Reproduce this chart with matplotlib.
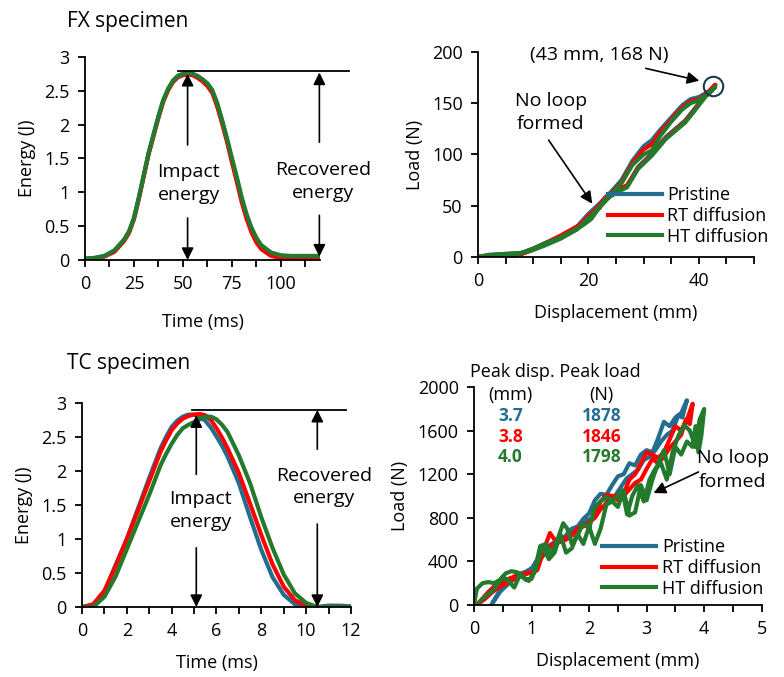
import matplotlib
matplotlib.use("Agg")
import matplotlib.pyplot as plt

plt.rcParams['font.family'] = ['Open Sans', 'DejaVu Sans']
plt.rcParams['font.size'] = 13

BLUE = '#236e8f'
RED = '#ff0000'
GREEN = '#237a2d'

# ---- FX specimen: energy vs time ----
fx_time = [0, 5, 10, 15, 20, 22.5, 25, 27.5, 30, 32.5, 35, 37.5, 40, 42.5, 45, 47.5, 50, 52.5, 55, 57.5,
           60, 62.5, 65, 67.5, 70, 72.5, 75, 77.5, 80, 82.5, 85, 87.5, 90, 95, 100, 105, 110, 115, 120]
fx_e_pristine = [0.02, 0.03, 0.06, 0.14, 0.30, 0.42, 0.62, 0.92, 1.25, 1.58, 1.85, 2.12, 2.36, 2.53, 2.65, 2.72, 2.75, 2.76, 2.75, 2.71,
                 2.66, 2.60, 2.50, 2.30, 2.05, 1.78, 1.48, 1.20, 0.90, 0.65, 0.45, 0.30, 0.20, 0.10, 0.06, 0.05, 0.05, 0.05, 0.05]
fx_e_rt = [0.01, 0.02, 0.05, 0.12, 0.28, 0.40, 0.60, 0.90, 1.23, 1.56, 1.83, 2.10, 2.34, 2.51, 2.63, 2.70, 2.73, 2.74, 2.73, 2.69,
           2.64, 2.57, 2.47, 2.27, 2.02, 1.75, 1.45, 1.16, 0.86, 0.61, 0.41, 0.26, 0.16, 0.06, 0.03, 0.02, 0.02, 0.02, 0.03]
fx_e_ht = [0.02, 0.03, 0.06, 0.14, 0.30, 0.42, 0.62, 0.92, 1.25, 1.58, 1.85, 2.12, 2.36, 2.53, 2.65, 2.72, 2.75, 2.76, 2.75, 2.72,
           2.67, 2.61, 2.51, 2.32, 2.07, 1.80, 1.51, 1.23, 0.93, 0.68, 0.48, 0.33, 0.22, 0.11, 0.07, 0.06, 0.06, 0.06, 0.06]

# ---- FX specimen: load vs displacement (upper and lower branch) ----
fx_d_up = [0, 2, 5, 8, 10, 12, 15, 18, 20, 22, 24, 26, 28, 30, 31.5, 33, 35, 37, 38.5, 40, 42, 43]
fx_l_up_pristine = [0, 2, 3, 4, 8, 12, 20, 30, 42, 52, 63, 75, 94, 108, 114, 124, 136, 148, 154, 156, 162, 168]
fx_l_up_rt = [0, 1, 2, 3, 7, 12, 19, 29, 40, 50, 61, 73, 92, 105, 110, 122, 134, 146, 152, 154, 161, 168]
fx_l_up_ht = [0, 2, 3, 4, 7, 11, 18, 27, 38, 48, 60, 72, 90, 100, 104, 118, 132, 144, 150, 153, 160, 166]
fx_d_dn = [43, 41.3, 39, 37.5, 34, 31.5, 29, 27, 25.5, 23, 20.5, 19, 17, 15, 12, 10, 8, 6, 4, 2, 0]
fx_l_dn_pristine = [168, 159, 143, 133, 117, 101, 88, 69, 65, 57, 38, 32, 26, 20, 13, 8, 4, 2, 1, 1, 0]
fx_l_dn_rt = [168, 158, 142, 132, 116, 100, 87, 70, 66, 58, 39, 33, 27, 21, 13, 8, 4, 1, 0, 0, 0]
fx_l_dn_ht = [166, 157, 141, 131, 115, 99, 86, 68, 64, 56, 37, 31, 25, 19, 13, 8, 4, 2, 1, 1, 0]

# ---- TC specimen: energy vs time ----
tc_time = [0, 0.5, 1, 1.5, 2, 2.5, 3, 3.5, 3.75, 4, 4.25, 4.5, 4.75, 5, 5.25, 5.5, 5.75, 6, 6.25, 6.5,
           7, 7.5, 8, 8.5, 9, 9.5, 10, 10.5, 11, 11.5, 12]
tc_e_pristine = [0, 0.02, 0.22, 0.62, 1.00, 1.45, 1.90, 2.33, 2.50, 2.65, 2.74, 2.80, 2.83, 2.83, 2.80, 2.74, 2.64, 2.51, 2.37, 2.21,
                 1.82, 1.32, 0.84, 0.44, 0.18, 0.04, 0.0, 0.0, 0.02, 0.02, 0.01]
tc_e_rt = [0, 0.04, 0.24, 0.60, 1.00, 1.42, 1.85, 2.28, 2.45, 2.60, 2.70, 2.77, 2.81, 2.83, 2.84, 2.82, 2.75, 2.63, 2.49, 2.33,
           1.97, 1.52, 1.06, 0.63, 0.30, 0.10, 0.02, 0.0, 0.0, 0.0, 0.0]
tc_e_ht = [0, 0.0, 0.15, 0.45, 0.85, 1.25, 1.65, 2.08, 2.25, 2.40, 2.53, 2.63, 2.68, 2.72, 2.76, 2.80, 2.80, 2.76, 2.68, 2.57,
           2.23, 1.82, 1.32, 0.87, 0.48, 0.20, 0.06, 0.0, 0.0, 0.0, 0.0]

# ---- TC specimen: load vs displacement ----
tc_d_up_pristine = [0.30, 0.40, 0.50, 0.60, 0.70, 0.80, 0.90, 1.00, 1.10, 1.20, 1.30, 1.40, 1.50, 1.60, 1.70, 1.80, 1.90, 2.00, 2.10, 2.20, 2.30, 2.40, 2.50, 2.60, 2.70, 2.80, 2.90, 3.00, 3.10, 3.20, 3.30, 3.40, 3.50, 3.60, 3.70]
tc_l_up_pristine = [0, 90, 170, 210, 260, 290, 300, 330, 420, 480, 540, 580, 600, 640, 700, 720, 790, 840, 960, 1020, 1010, 1100, 1180, 1200, 1300, 1280, 1380, 1420, 1400, 1530, 1680, 1640, 1720, 1760, 1878]
tc_d_dn_pristine = [3.70, 3.62, 3.55, 3.45, 3.35, 3.25, 3.15, 3.05, 2.95, 2.85, 2.75, 2.65, 2.55, 2.45, 2.35, 2.25, 2.15, 2.05, 1.95, 1.85, 1.75, 1.65, 1.55, 1.45, 1.35, 1.25, 1.15, 1.05, 0.95, 0.85, 0.75, 0.65, 0.55, 0.45, 0.35]
tc_l_dn_pristine = [1878, 1720, 1740, 1600, 1560, 1500, 1420, 1360, 1330, 1240, 1200, 1160, 1080, 1000, 980, 900, 880, 800, 770, 720, 690, 650, 600, 580, 540, 480, 420, 350, 320, 290, 250, 220, 170, 120, 40]

tc_d_up_rt = [0.05, 0.15, 0.25, 0.35, 0.45, 0.55, 0.65, 0.75, 0.85, 0.95, 1.05, 1.15, 1.25, 1.32, 1.40, 1.50, 1.60, 1.70, 1.80, 1.90, 2.00, 2.10, 2.20, 2.30, 2.40, 2.50, 2.60, 2.70, 2.80, 2.90, 3.00, 3.10, 3.20, 3.30, 3.40, 3.50, 3.60, 3.70, 3.80]
tc_l_up_rt = [0, 60, 120, 170, 200, 230, 250, 270, 280, 290, 300, 420, 560, 660, 600, 600, 620, 640, 700, 720, 750, 820, 950, 1010, 1000, 1000, 1020, 1150, 1200, 1300, 1400, 1380, 1350, 1400, 1520, 1640, 1600, 1700, 1846]
tc_d_dn_rt = [3.80, 3.75, 3.68, 3.60, 3.50, 3.40, 3.30, 3.20, 3.10, 3.00, 2.90, 2.80, 2.70, 2.60, 2.50, 2.40, 2.30, 2.20, 2.10, 2.00, 1.90, 1.80, 1.70, 1.60, 1.50, 1.40, 1.30, 1.20, 1.10, 1.00, 0.90, 0.80, 0.70, 0.60, 0.50, 0.40, 0.30, 0.20, 0.10]
tc_l_dn_rt = [1846, 1660, 1700, 1560, 1500, 1440, 1360, 1300, 1340, 1250, 1150, 1120, 1060, 1000, 960, 990, 930, 880, 800, 760, 730, 700, 640, 600, 580, 560, 540, 480, 320, 300, 290, 260, 240, 210, 180, 150, 110, 60, 20]

tc_d_up_ht = [0.00, 0.05, 0.15, 0.25, 0.35, 0.45, 0.55, 0.65, 0.75, 0.85, 0.95, 1.05, 1.15, 1.25, 1.35, 1.45, 1.55, 1.62, 1.70, 1.80, 1.90, 2.00, 2.10, 2.20, 2.30, 2.40, 2.50, 2.58, 2.66, 2.75, 2.85, 2.95, 3.05, 3.15, 3.25, 3.35, 3.45, 3.55, 3.65, 3.75, 3.85, 3.92, 4.00]
tc_l_up_ht = [0, 150, 200, 210, 200, 230, 290, 310, 300, 260, 220, 300, 540, 560, 460, 600, 750, 700, 560, 640, 750, 700, 900, 950, 990, 960, 1000, 1050, 830, 1000, 1100, 950, 1150, 1250, 1300, 1150, 1400, 1550, 1650, 1600, 1450, 1700, 1798]
tc_d_dn_ht = [4.00, 3.95, 3.90, 3.85, 3.80, 3.70, 3.60, 3.50, 3.40, 3.30, 3.20, 3.10, 3.00, 2.90, 2.80, 2.70, 2.60, 2.50, 2.40, 2.30, 2.20, 2.10, 2.00, 1.90, 1.80, 1.70, 1.60, 1.50, 1.40, 1.30, 1.20, 1.10, 1.00, 0.90, 0.80, 0.70, 0.60, 0.50, 0.40, 0.30, 0.20, 0.10]
tc_l_dn_ht = [1798, 1550, 1400, 1640, 1450, 1500, 1380, 1450, 1200, 1420, 1300, 1150, 960, 1100, 850, 820, 1050, 900, 950, 920, 700, 560, 720, 560, 650, 520, 480, 650, 480, 420, 540, 380, 240, 230, 280, 160, 220, 260, 180, 120, 80, 30]

peak_disp = ['3.7', '3.8', '4.0']
peak_load = ['1878', '1846', '1798']
labels = ['Pristine', 'RT diffusion', 'HT diffusion']
colors = [BLUE, RED, GREEN]

fig = plt.figure(figsize=(7.84, 6.77), dpi=100)
ax1 = fig.add_axes([0.1084, 0.616, 0.2997, 0.2999])
ax2 = fig.add_axes([0.6097, 0.6204, 0.352, 0.3028])
ax3 = fig.add_axes([0.1046, 0.1034, 0.343, 0.3013])
ax4 = fig.add_axes([0.6046, 0.1064, 0.367, 0.322])


def style(ax):
    for s in ['top', 'right']:
        ax.spines[s].set_visible(False)
    for s in ['left', 'bottom']:
        ax.spines[s].set_linewidth(1.3)
    ax.tick_params(direction='out', length=5, width=1.3, labelsize=13, pad=6)


def ticks(ax, vals, labeled):
    ax.set_xticks(vals)
    ax.set_xticklabels([str(v) if v in labeled else '' for v in vals])


arr = dict(arrowstyle='-|>', color='black', lw=1.2, mutation_scale=18, shrinkA=0, shrinkB=0)
lw = 3
fs_note = 14

# FX energy
ax1.plot(fx_time, fx_e_pristine, color=BLUE, lw=lw)
ax1.plot(fx_time, fx_e_rt, color=RED, lw=lw)
ax1.plot(fx_time, fx_e_ht, color=GREEN, lw=lw)
ax1.set_xlim(0, 120)
ax1.set_ylim(0, 3)
ax1.set_yticks([0, 0.5, 1, 1.5, 2, 2.5, 3])
ax1.set_yticklabels(['0', '0.5', '1', '1.5', '2', '2.5', '3'])
ticks(ax1, [0, 12.5, 25, 37.5, 50, 62.5, 75, 87.5, 100, 112.5], [0, 25, 50, 75, 100])
ax1.set_xlabel('Time (ms)', labelpad=14)
ax1.set_ylabel('Energy (J)', labelpad=6)
style(ax1)
ax1.plot([47.5, 135], [2.79, 2.79], color='black', lw=1.3, clip_on=False)
ax1.annotate('', xy=(52.4, 2.75), xytext=(52.4, 1.7), arrowprops=arr)
ax1.annotate('', xy=(52.4, 0.0), xytext=(52.4, 0.62), arrowprops=arr)
ax1.annotate('', xy=(119.7, 2.77), xytext=(119.7, 1.74), arrowprops=arr, annotation_clip=False)
ax1.annotate('', xy=(119.7, 0.05), xytext=(119.7, 0.66), arrowprops=arr, annotation_clip=False)
ax1.text(53, 1.13, 'Impact\nenergy', ha='center', va='center', fontsize=fs_note, linespacing=1.3)
ax1.text(121.6, 1.16, 'Recovered\nenergy', ha='center', va='center', fontsize=fs_note, linespacing=1.3)

# FX load-displacement
for c, up, dn, lab in zip(colors, [fx_l_up_pristine, fx_l_up_rt, fx_l_up_ht],
                          [fx_l_dn_pristine, fx_l_dn_rt, fx_l_dn_ht], labels):
    ax2.plot(fx_d_up + fx_d_dn, up + dn, color=c, lw=lw, label=lab)
ax2.set_xlim(0, 50)
ax2.set_ylim(0, 200)
ax2.set_yticks([0, 50, 100, 150, 200])
ticks(ax2, [0, 5, 10, 15, 20, 25, 30, 35, 40, 45, 50], [0, 20, 40])
ax2.set_xlabel('Displacement (mm)', labelpad=10)
ax2.set_ylabel('Load (N)', labelpad=6)
style(ax2)
ax2.plot([42.5], [167], marker='o', ms=14, mfc='none', mec='#1a3a4a', mew=1.5, clip_on=False)
ax2.text(22, 197, '(43 mm, 168 N)', ha='center', va='center', fontsize=fs_note, clip_on=False)
ax2.annotate('', xy=(40.1, 172), xytext=(30.4, 184), arrowprops=arr)
ax2.text(13.2, 141, 'No loop\nformed', ha='center', va='center', fontsize=fs_note, linespacing=1.4)
ax2.annotate('', xy=(20.7, 52), xytext=(12.8, 114), arrowprops=arr)
ax2.legend(loc='lower right', bbox_to_anchor=(1.08, 0.02), frameon=False, fontsize=13,
           handlelength=3.0, handletextpad=0.3, labelspacing=0.15, borderaxespad=0)

# TC energy
ax3.plot(tc_time, tc_e_pristine, color=BLUE, lw=lw)
ax3.plot(tc_time, tc_e_rt, color=RED, lw=lw)
ax3.plot(tc_time, tc_e_ht, color=GREEN, lw=lw)
ax3.set_xlim(0, 12)
ax3.set_ylim(0, 3)
ax3.set_yticks([0, 0.5, 1, 1.5, 2, 2.5, 3])
ax3.set_yticklabels(['0', '0.5', '1', '1.5', '2', '2.5', '3'])
ticks(ax3, list(range(13)), [0, 2, 4, 6, 8, 10, 12])
ax3.set_xlabel('Time (ms)', labelpad=10)
ax3.set_ylabel('Energy (J)', labelpad=6)
style(ax3)
ax3.plot([4.9, 11.8], [2.9, 2.9], color='black', lw=1.3, clip_on=False)
ax3.annotate('', xy=(5.1, 2.82), xytext=(5.1, 1.95), arrowprops=arr)
ax3.annotate('', xy=(5.1, 0.0), xytext=(5.1, 0.87), arrowprops=arr)
ax3.annotate('', xy=(10.5, 2.9), xytext=(10.5, 2.32), arrowprops=arr)
ax3.annotate('', xy=(10.5, 0.0), xytext=(10.5, 1.22), arrowprops=arr)
ax3.text(5.3, 1.42, 'Impact\nenergy', ha='center', va='center', fontsize=fs_note, linespacing=1.3)
ax3.text(10.8, 1.76, 'Recovered\nenergy', ha='center', va='center', fontsize=fs_note, linespacing=1.3)

# TC load-displacement
tc_up_d = [tc_d_up_pristine, tc_d_up_rt, tc_d_up_ht]
tc_up_l = [tc_l_up_pristine, tc_l_up_rt, tc_l_up_ht]
tc_dn_d = [tc_d_dn_pristine, tc_d_dn_rt, tc_d_dn_ht]
tc_dn_l = [tc_l_dn_pristine, tc_l_dn_rt, tc_l_dn_ht]
for c, ud, ul, dd, dl, lab in zip(colors, tc_up_d, tc_up_l, tc_dn_d, tc_dn_l, labels):
    ax4.plot(ud + dd, ul + dl, color=c, lw=lw, label=lab)
ax4.set_xlim(0, 5)
ax4.set_ylim(0, 2000)
ax4.set_yticks([0, 400, 800, 1200, 1600, 2000])
ax4.set_xticks([0, 0.5, 1, 1.5, 2, 2.5, 3, 3.5, 4, 4.5, 5])
ax4.set_xticklabels(['0', '', '1', '', '2', '', '3', '', '4', '', '5'])
ax4.set_xlabel('Displacement (mm)', labelpad=10)
ax4.set_ylabel('Load (N)', labelpad=6)
style(ax4)
ax4.text(-0.07, 2140, 'Peak disp. Peak load', ha='left', va='center', fontsize=13, clip_on=False)
ax4.text(0.63, 1930, '(mm)', ha='center', va='center', fontsize=13)
ax4.text(2.22, 1930, '(N)', ha='center', va='center', fontsize=13)
for i in range(3):
    y = 1735 - i * 190
    ax4.text(0.63, y, peak_disp[i], ha='center', va='center', fontsize=12.5, color=colors[i], fontweight='bold')
    ax4.text(2.22, y, peak_load[i], ha='center', va='center', fontsize=12.5, color=colors[i], fontweight='bold')
ax4.text(4.5, 1240, 'No loop\nformed', ha='center', va='center', fontsize=fs_note, linespacing=1.4)
ax4.annotate('', xy=(3.12, 1027), xytext=(3.9, 1220), arrowprops=arr)
ax4.legend(loc='lower right', bbox_to_anchor=(1.03, 0.0), frameon=False, fontsize=13,
           handlelength=3.0, handletextpad=0.3, labelspacing=0.15, borderaxespad=0)

fig.text(0.085, 0.968, 'FX specimen', fontsize=15, ha='left', va='center')
fig.text(0.085, 0.463, 'TC specimen', fontsize=15, ha='left', va='center')

fig.savefig('out.png', dpi=100)
